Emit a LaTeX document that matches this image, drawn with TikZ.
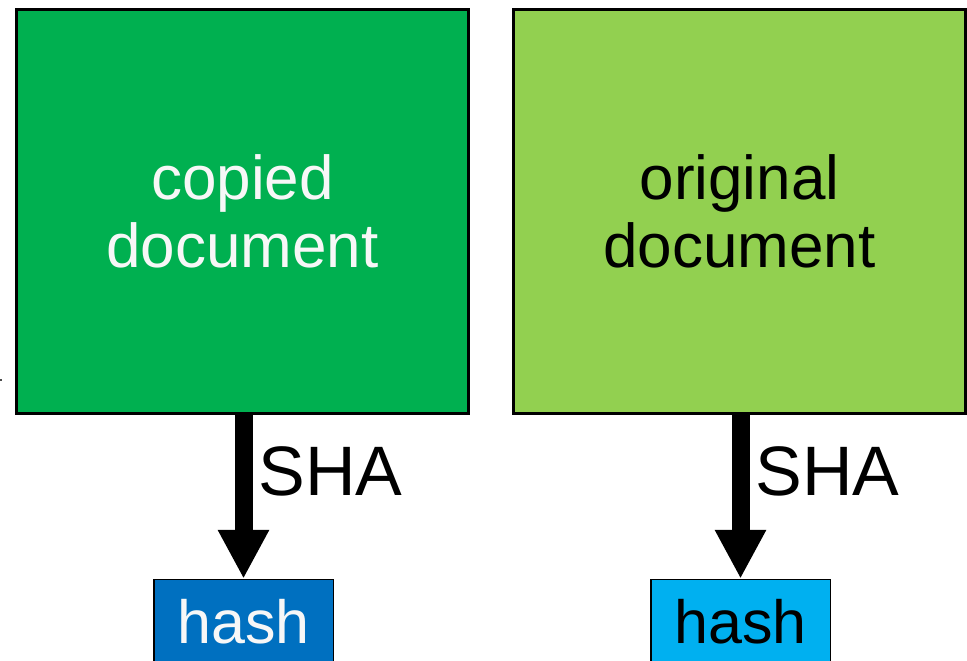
\documentclass[tikz,border=0pt]{standalone}
\usepackage{fontspec}
\setmainfont{Liberation Sans}
\usetikzlibrary{arrows.meta}

\definecolor{copygreen}{HTML}{00B050}
\definecolor{origgreen}{HTML}{92D050}
\definecolor{hashblue}{HTML}{0070C0}
\definecolor{hashcyan}{HTML}{00B0F0}
\definecolor{offwhite}{HTML}{F7F7F7}

\tikzset{
  docbox/.style={draw=black, line width=3pt, rectangle,
    minimum width=452pt, minimum height=404pt, inner sep=0pt,
    align=center, font=\fontsize{62}{68}\selectfont},
  hashbox/.style={draw=black, line width=1.5pt, rectangle, anchor=north,
    minimum width=179.5pt, inner xsep=0pt, inner ysep=0pt,
    text height=64.25pt, text depth=80pt,
    font=\fontsize{61}{61}\selectfont},
  shaarrow/.style={line width=18pt, -{Triangle[width=48pt,length=49pt]}},
  shalabel/.style={anchor=base west, inner sep=0pt,
    font=\fontsize{70}{70}\selectfont}
}

\begin{document}
\begin{tikzpicture}[x=1pt, y=-1pt]
  \useasboundingbox (0,0) rectangle (967,661);
  \clip (0,0) rectangle (967,661);

  % small mark at the left edge
  \fill[black!70] (0,379) rectangle (2,381);

  % document boxes
  \node[docbox, fill=copygreen, text=offwhite] (copied) at (242.5,211.5) {copied\\document};
  \node[docbox, fill=origgreen, text=black] (original) at (739.5,211.5) {original\\document};

  % hash boxes (running off the bottom edge)
  \node[hashbox, fill=hashblue, text=offwhite] (hashL) at (243.5,578.75) {hash};
  \node[hashbox, fill=hashcyan, text=black] (hashR) at (740.5,578.75) {hash};

  % hashing arrows
  \draw[shaarrow] (copied.south -| hashL.north) -- (hashL.north);
  \draw[shaarrow] (original.south -| hashR.north) -- (hashR.north);

  % arrow labels
  \node[shalabel] (shaL) at (258.5,495) {SHA};
  \node[shalabel] (shaR) at (755.5,495) {SHA};
\end{tikzpicture}
\end{document}
